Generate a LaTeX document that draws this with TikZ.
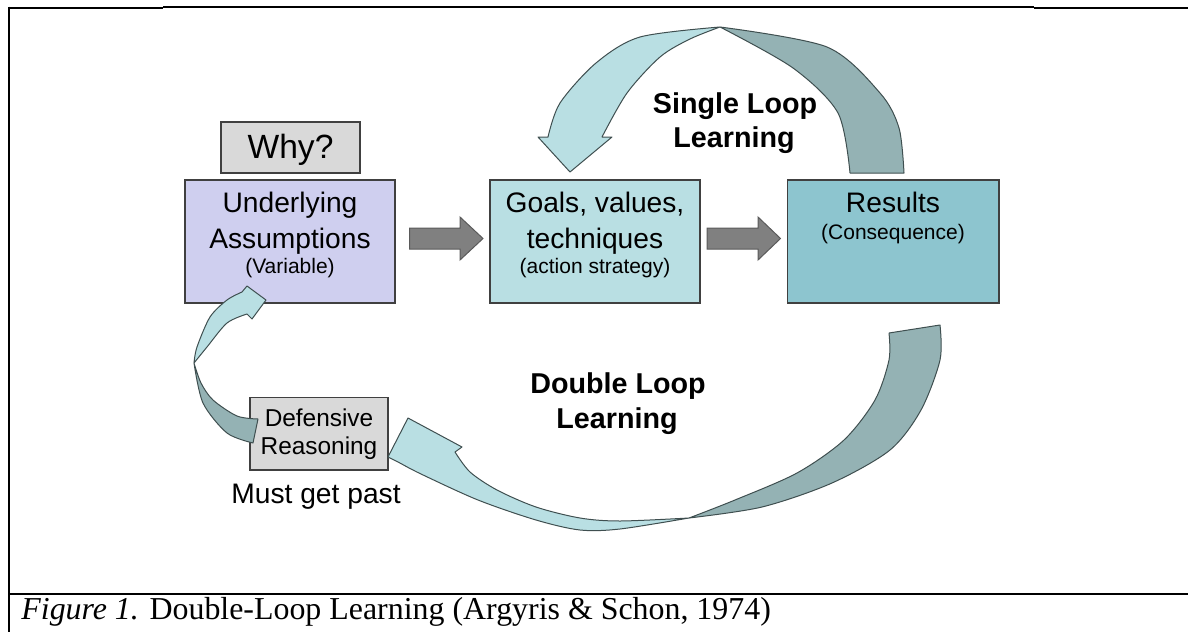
\documentclass[tikz,border=0pt]{standalone}
\usepackage{fontspec}
\setmainfont{Liberation Sans}
\newfontfamily\capfont{Liberation Serif}
\definecolor{lav}{HTML}{CFCFEF}
\definecolor{goalc}{HTML}{B9DFE3}
\definecolor{resc}{HTML}{8DC5CF}
\definecolor{grayc}{HTML}{D9D9D9}
\definecolor{arlight}{HTML}{B9DFE3}
\definecolor{ardark}{HTML}{94B2B4}
\definecolor{arline}{HTML}{3F4F50}
\definecolor{boxline}{HTML}{404040}
\definecolor{blk}{HTML}{808080}
\definecolor{blkline}{HTML}{5A5A5A}
\begin{document}
\begin{tikzpicture}[x=0.5pt,y=-0.5pt]
\useasboundingbox (0,0) rectangle (1188,632);
\tikzset{
 box/.style={draw=boxline, line width=0.7pt, inner sep=0pt},
 txt/.style={anchor=base, inner sep=0pt, font=\fontsize{14.1}{16}\selectfont},
 sm/.style={anchor=base, inner sep=0pt, font=\fontsize{10.5}{12}\selectfont},
 bld/.style={anchor=base, inner sep=0pt, font=\fontsize{14.35}{16}\selectfont\bfseries},
 lightband/.style={fill=arlight, draw=arline, line width=0.5pt, line join=round},
 darkband/.style={fill=ardark, draw=arline, line width=0.5pt, line join=round},
 block/.style={fill=blk, draw=blkline, line width=0.5pt, line join=miter},
 thickrule/.style={line width=1pt, black},
}
% frame
\draw[thickrule] (8,7.5) -- (163,7.5);
\draw[line width=0.6pt] (163,7) -- (1034,7);
\draw[thickrule] (1034,7.5) -- (1188,7.5);
\draw[thickrule] (9,6.5) -- (9,632);
\draw[thickrule] (8,594.3) -- (1188,594.3);
\node[anchor=base west, inner sep=0pt, font=\capfont\fontsize{15.95}{18}\selectfont] (cap) at (21,619)
 {\textit{Figure 1.} Double-Loop Learning (Argyris \& Schon, 1974)};

% boxes
\node[box, fill=grayc, minimum width=69.5pt, minimum height=25.5pt] (why) at (290.5,147.5) {};
\node[anchor=base, inner sep=0pt, font=\fontsize{16.8}{18}\selectfont] (whyt) at (290.5,158) {Why?};
\node[box, fill=lav, minimum width=105pt, minimum height=61.5pt] (ua) at (290,241.5) {};
\node[txt] (ua1) at (290,212) {Underlying};
\node[txt] (ua2) at (290,248) {Assumptions};
\node[sm] (ua3) at (290,273) {(Variable)};
\node[box, fill=goalc, minimum width=105pt, minimum height=61.5pt] (goals) at (595,241.5) {};
\node[txt] (g1) at (595,212) {Goals, values,};
\node[txt] (g2) at (595,248) {techniques};
\node[sm] (g3) at (595,273) {(action strategy)};
\node[box, fill=resc, minimum width=105.75pt, minimum height=61.5pt] (res) at (893.25,241.5) {};
\node[txt] (r1) at (893,212) {Results};
\node[sm] (r2) at (893,239) {(Consequence)};
\node[box, fill=grayc, minimum width=69pt, minimum height=36.25pt] (def) at (319,433.75) {};
\node[anchor=base, inner sep=0pt, font=\fontsize{12.2}{14}\selectfont] (d1) at (319,426) {Defensive};
\node[anchor=base, inner sep=0pt, font=\fontsize{12.2}{14}\selectfont] (d2) at (319,454) {Reasoning};
\node[txt] (must) at (316,503) {Must get past};

% labels
\node[bld] (sl1) at (735,113) {Single Loop};
\node[bld] (sl2) at (734,147) {Learning};
\node[bld] (dl1) at (618,393) {Double Loop};
\node[bld] (dl2) at (617,428) {Learning};

% block arrows
\draw[block] (409.5,228) -- (460,228) -- (460,217) -- (483,238.5) -- (460,260) -- (460,249) -- (409.5,249) -- cycle;
\draw[block] (707,228) -- (758,228) -- (758,217) -- (780.5,238.5) -- (758,260) -- (758,249) -- (707,249) -- cycle;

% single loop arrow
\draw[darkband] (850,173) -- plot[smooth] coordinates {(850,173) (838,113) (793,68) (720,27)}
  -- plot[smooth] coordinates {(720,27) (827,47) (880,93) (899,128) (904,173)} -- cycle;
\draw[lightband] (602,137) -- (612,137) -- (570,172) -- (538,137) -- (548,137)
  -- plot[smooth] coordinates {(548,137) (560,103) (596,63) (640,37) (720,27)}
  -- plot[smooth] coordinates {(720,27) (690,39) (660,57) (627,93) (602,137)} -- cycle;

% double loop arrow
\draw[darkband] (889,333) -- (940,325)
  -- plot[smooth] coordinates {(940,325) (940,360) (921,410) (890,450) (832,483) (762,507) (689,518)}
  -- plot[smooth] coordinates {(689,518) (735,500) (797,473) (844,440) (875,400) (889,360) (889,333)} -- cycle;
\draw[lightband] (689,518)
  -- plot[smooth] coordinates {(689,518) (620,521) (580,518) (536,507) (497,490) (470,472) (455,452)}
  -- (462,447) -- (408,418) -- (388,457)
  -- plot[smooth] coordinates {(388,457) (398,462) (421,474) (478,500) (536,520) (580,530) (620,529) (689,518)} -- cycle;

% small left arrow
\draw[darkband] (258,419) -- (253,443)
  -- plot[smooth] coordinates {(253,443) (227,433) (203,403) (194,363)}
  -- plot[smooth] coordinates {(194,363) (201,383) (213,400) (237,416) (258,419)} -- cycle;
\draw[lightband] (194,363)
  -- plot[smooth] coordinates {(194,363) (197,347) (210,317) (227,300) (242,292)}
  -- (247,286) -- (266,300) -- (252,319) -- (247,314)
  -- plot[smooth] coordinates {(247,314) (227,323) (207,347) (194,363)} -- cycle;
\end{tikzpicture}
\end{document}
